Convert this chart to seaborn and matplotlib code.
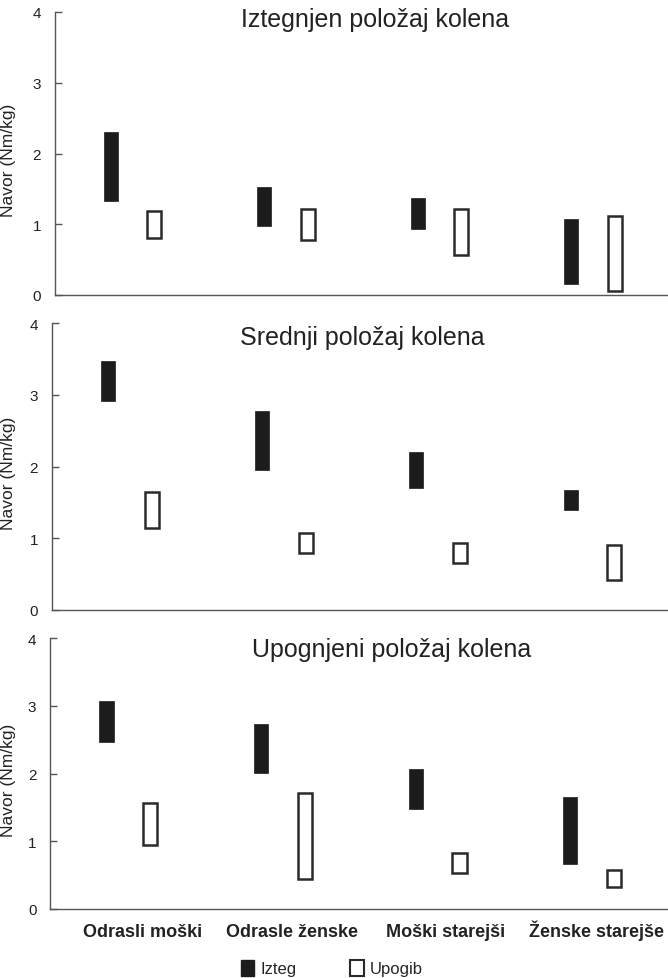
import numpy as np
import pandas as pd
import matplotlib
matplotlib.use("Agg")
import matplotlib.pyplot as plt
from matplotlib.patches import Patch
import seaborn as sns

# ---------------- data ----------------
categories = ["Odrasli moški", "Odrasle ženske", "Moški starejši", "Ženske starejše"]
series = ["Izteg", "Upogib"]
panel_titles = ["Iztegnjen položaj kolena", "Srednji položaj kolena", "Upognjeni položaj kolena"]
y_label = "Navor (Nm/kg)"
y_ticks = [0, 1, 2, 3, 4]

# floating bars: low / high per category
izteg_low_1 = [1.33, 0.97, 0.93, 0.16]
izteg_high_1 = [2.30, 1.53, 1.37, 1.08]
upogib_low_1 = [0.80, 0.78, 0.57, 0.05]
upogib_high_1 = [1.19, 1.22, 1.22, 1.12]

izteg_low_2 = [2.91, 1.96, 1.70, 1.39]
izteg_high_2 = [3.47, 2.77, 2.20, 1.67]
upogib_low_2 = [1.14, 0.80, 0.65, 0.42]
upogib_high_2 = [1.65, 1.08, 0.93, 0.91]

izteg_low_3 = [2.47, 2.01, 1.48, 0.67]
izteg_high_3 = [3.07, 2.74, 2.07, 1.65]
upogib_low_3 = [0.95, 0.45, 0.53, 0.33]
upogib_high_3 = [1.57, 1.72, 0.83, 0.57]

panels = [
    (izteg_low_1, izteg_high_1, upogib_low_1, upogib_high_1),
    (izteg_low_2, izteg_high_2, upogib_low_2, upogib_high_2),
    (izteg_low_3, izteg_high_3, upogib_low_3, upogib_high_3),
]

# ---------------- style ----------------
sns.set_style("ticks")
plt.rcParams["font.family"] = ["Liberation Sans", "DejaVu Sans"]

W, H = 668, 979
fig = plt.figure(figsize=(W / 100, H / 100), dpi=100)

# axes boxes in pixels: left, top(y=4), bottom(y=0)
boxes = [(55, 13, 296), (52, 324.3, 611), (50.3, 639.3, 910)]
title_pos = [(0.522, 0.975), (0.503, 0.952), (0.553, 0.96)]
label_shift = [0.09, 0.06, 0.05, 0.03]   # small rightward shift of category labels

dark = "#1c1c1c"
edge = "#2a2a2a"
spine_c = "#555555"

for p, ((il, ih, ul, uh), (L, T, B), (tx, ty), title) in enumerate(
        zip(panels, boxes, title_pos, panel_titles)):
    ax = fig.add_axes([L / W, 1 - B / H, (W - L) / W, (B - T) / H])
    rows = []
    for i, c in enumerate(categories):
        rows.append({"cat": c, "type": "Izteg", "low": il[i], "span": ih[i] - il[i]})
        rows.append({"cat": c, "type": "Upogib", "low": ul[i], "span": uh[i] - ul[i]})
    df = pd.DataFrame(rows)
    sns.barplot(data=df, x="cat", y="span", hue="type", order=categories,
                hue_order=series, palette={"Izteg": dark, "Upogib": "white"},
                width=0.566, gap=0.678, dodge=True, errorbar=None,
                legend=False, ax=ax, saturation=1)
    lows = {(r["cat"], r["type"]): r["low"] for r in rows}
    for cont, s in zip(ax.containers, series):
        for bar in cont:
            xc = bar.get_x() + bar.get_width() / 2
            ci = int(round(xc))
            bar.set_y(lows[(categories[ci], s)])
            if s == "Izteg":
                bar.set_facecolor(dark)
                bar.set_edgecolor(dark)
                bar.set_linewidth(0.5)
            else:
                bar.set_facecolor("white")
                bar.set_edgecolor(edge)
                bar.set_linewidth(1.8)
    ax.set_xlim(-0.505, 3.49)
    ax.set_ylim(0, 4)
    ax.set_yticks(y_ticks)
    ax.set_yticklabels([str(t) for t in y_ticks], fontsize=11, color="#222222")
    ax.tick_params(axis="y", direction="in", length=5, width=1, color=spine_c, pad=10)
    ax.tick_params(axis="x", length=0, pad=19.2)
    ax.set_xlabel("")
    if p == 2:
        ax.set_xticks([i + d for i, d in enumerate(label_shift)])
        ax.set_xticklabels(categories, fontsize=13, fontweight="bold", color="#222222")
        for lab in ax.get_xticklabels():
            lab.set_va("baseline")
    else:
        ax.set_xticks([])
    ax.set_ylabel(y_label, fontsize=12.5, color="#222222")
    ax.yaxis.set_label_coords((16 - L) / (W - L), 0.48)
    for sp in ["top", "right"]:
        ax.spines[sp].set_visible(False)
    for sp in ["left", "bottom"]:
        ax.spines[sp].set_color(spine_c)
        ax.spines[sp].set_linewidth(1.0)
    ax.text(tx, ty, title, transform=ax.transAxes, ha="center", va="center",
            fontsize=18, color="#222222")

handles = [Patch(facecolor=dark, edgecolor=dark),
           Patch(facecolor="white", edgecolor=edge, linewidth=1.5)]
fig.legend(handles, series, loc="center", bbox_to_anchor=(0.497, 1 - 969 / H),
           ncol=2, frameon=False, fontsize=12, handlelength=0.8, handleheight=1.1,
           handletextpad=0.4, columnspacing=3.2)

fig.savefig("out.png", dpi=100, facecolor="white")
